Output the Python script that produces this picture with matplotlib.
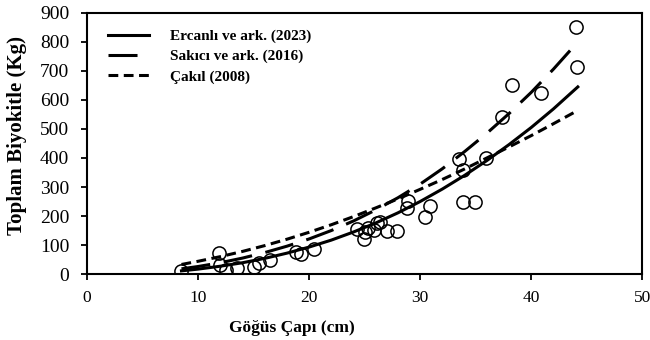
"""Toplam biyokitle - göğüs çapı: ölçülen ağaçlar ve üç model eğrisi."""

import matplotlib as mpl
import matplotlib.pyplot as plt

mpl.use("Agg")

plt.rcParams["font.family"] = ["Liberation Serif", "DejaVu Serif"]

# Ölçülen ağaçlar (göğüs çapı cm, toplam biyokitle kg)
dbh = [8.5, 11.9, 12.0, 12.5, 13.5, 15.0, 15.5, 16.5, 18.8, 19.3, 20.4,
       24.3, 24.9, 25.0, 25.3, 25.8, 26.1, 26.4, 27.0, 27.9, 28.8, 28.9,
       30.4, 30.9, 33.5, 33.9, 33.9, 34.9, 35.9, 37.4, 38.3, 40.9, 44.0, 44.1]
biomass = [12, 72, 30, 15, 22, 25, 38, 50, 75, 70, 85,
           155, 122, 145, 160, 152, 175, 180, 150, 150, 226, 252,
           198, 235, 395, 357, 248, 248, 400, 541, 653, 624, 850, 712]

# Model eğrileri
curve_x = [8.5, 10, 12, 14, 16, 18, 20, 22, 24, 26, 28, 30, 32, 34, 36, 38, 40, 42, 44.2]
ercanli = [11, 17, 27, 39, 54, 72, 93, 117, 145, 176, 211, 250, 293, 340, 391, 446, 505, 569, 645]
sakici = [18, 26, 39, 55, 74, 96, 121, 150, 183, 221, 263, 310, 363, 422, 485, 553, 626, 706, 800]
cakil = [33, 44, 60, 78, 98, 120, 144, 170, 198, 228, 259, 292, 326, 362, 400, 438, 477, 518, 564]

labels = ["Ercanlı ve ark. (2023)", "Sakıcı ve ark. (2016)", "Çakıl (2008)"]

fig = plt.figure(figsize=(6.5, 3.4), dpi=100)
ax = fig.add_axes([0.134, 0.194, 0.854, 0.768])

ax.plot(dbh, biomass, "o", markersize=9.5, markerfacecolor="none",
        markeredgecolor="black", markeredgewidth=1.1, zorder=2)

ax.plot(curve_x, ercanli, color="black", lw=2.2, label=labels[0], zorder=3)
ax.plot(curve_x, sakici, color="black", lw=2.2, dashes=(9.5, 4.5), label=labels[1], zorder=3)
ax.plot(curve_x, cakil, color="black", lw=2.2, dashes=(3.2, 1.8), label=labels[2], zorder=3)

ax.set_xlim(0, 50)
ax.set_ylim(0, 900)
ax.set_xticks(range(0, 51, 10))
ax.set_yticks(range(0, 901, 100))
ax.tick_params(direction="out", length=4.3, width=1.3)
ax.tick_params(axis="x", labelsize=12.5, pad=7)
ax.tick_params(axis="y", labelsize=14, pad=8.5)
for s in ax.spines.values():
    s.set_linewidth(1.5)

ax.set_xlabel("Göğüs Çapı (cm)", fontsize=12.5, fontweight="bold", labelpad=2)
ax.xaxis.set_label_coords(0.368, -0.175)
ax.set_ylabel("Toplam Biyokitle (Kg)", fontsize=15, fontweight="bold")
ax.yaxis.set_label_coords(-0.108, 0.53)

ax.legend(loc="upper left", frameon=False, handlelength=2.7, handletextpad=1.4,
          labelspacing=0.42, prop={"weight": "bold", "size": 11},
          bbox_to_anchor=(0.012, 0.99))

fig.savefig("out.png", dpi=100)
plt.close(fig)
